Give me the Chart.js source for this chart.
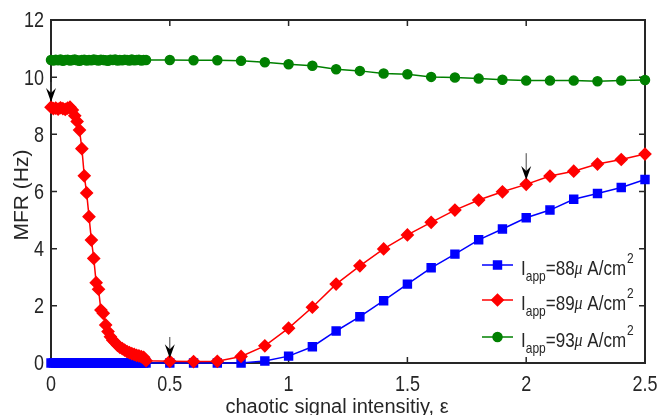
<!DOCTYPE html>
<html>
<head>
<meta charset="utf-8">
<script src="https://cdn.jsdelivr.net/npm/chart.js@4.4.1/dist/chart.umd.min.js"></script>
<style>
  html, body { margin: 0; padding: 0; background: #fff; }
</style>
</head>
<body>
<canvas id="chart" width="659" height="415"></canvas>
<script>
// chaotic signal intensity (x)
const eps = [
    0, 0.01, 0.02, 0.03, 0.04, 0.05, 0.06, 0.07, 0.08, 0.09,
    0.10, 0.11, 0.12, 0.13, 0.14, 0.15, 0.16, 0.17, 0.18, 0.19,
    0.20, 0.21, 0.22, 0.23, 0.24, 0.25, 0.26, 0.27, 0.28, 0.29,
    0.30, 0.31, 0.32, 0.33, 0.34, 0.35, 0.36, 0.37, 0.38, 0.39, 0.40,
    0.5, 0.6, 0.7, 0.8, 0.9, 1.0, 1.1, 1.2, 1.3, 1.4,
    1.5, 1.6, 1.7, 1.8, 1.9, 2.0, 2.1, 2.2, 2.3, 2.4, 2.5
];

// MFR (Hz) for Iapp = 88
const mfr88 = [
    0, 0, 0, 0, 0, 0, 0, 0, 0, 0,
    0, 0, 0, 0, 0, 0, 0, 0, 0, 0,
    0, 0, 0, 0, 0, 0, 0, 0, 0, 0,
    0, 0, 0, 0, 0, 0, 0, 0, 0, 0, 0,
    0, 0, 0, 0, 0.07, 0.24, 0.57, 1.12, 1.62, 2.18,
    2.76, 3.33, 3.81, 4.31, 4.69, 5.08, 5.35, 5.73, 5.93, 6.14, 6.42
];

// MFR (Hz) for Iapp = 89
const mfr89 = [
    8.95, 8.90, 8.92, 8.88, 8.93, 8.90, 8.87, 8.92, 8.95, 8.85,
    8.65, 8.45, 8.15, 7.50, 6.55, 5.95, 5.12, 4.30, 3.66, 2.81,
    2.58, 1.85, 1.74, 1.33, 1.10, 0.92, 0.80, 0.72, 0.62, 0.55,
    0.50, 0.45, 0.40, 0.36, 0.33, 0.30, 0.27, 0.25, 0.22, 0.20, 0.08,
    0.06, 0.05, 0.06, 0.23, 0.60, 1.22, 1.95, 2.76, 3.40, 3.99,
    4.48, 4.92, 5.35, 5.70, 5.99, 6.25, 6.54, 6.71, 6.96, 7.12, 7.31
];

// MFR (Hz) for Iapp = 93
const mfr93 = [
    10.60, 10.58, 10.61, 10.59, 10.62, 10.57, 10.60, 10.61, 10.58, 10.60,
    10.62, 10.59, 10.57, 10.60, 10.61, 10.58, 10.60, 10.59, 10.62, 10.60,
    10.58, 10.61, 10.60, 10.59, 10.57, 10.61, 10.60, 10.62, 10.58, 10.60,
    10.59, 10.61, 10.60, 10.58, 10.62, 10.59, 10.60, 10.61, 10.58, 10.60, 10.60,
    10.60, 10.59, 10.59, 10.57, 10.52, 10.45, 10.40, 10.28, 10.22, 10.13,
    10.10, 10.01, 9.99, 9.95, 9.91, 9.88, 9.88, 9.88, 9.86, 9.88, 9.90
];

const currents = ['88', '89', '93'];
const xTicks = [0, 0.5, 1, 1.5, 2, 2.5];
const yTicks = [0, 2, 4, 6, 8, 10, 12];

// arrows pointing down onto the curves
const arrowX = [0, 0.5, 2.0];
const arrowTip = [9.13, 0.17, 6.40];
const arrowTail = [9.83, 0.91, 7.34];

const FONT = '"Liberation Sans", Arial, Helvetica, sans-serif';
const AXIS = '#262626';
const STRETCH = 1.2;   // text in the figure is drawn a bit taller than wide

const ctx = document.querySelector('#chart').getContext('2d');

const pts = (ys) => eps.map((x, i) => ({ x: x, y: ys[i] }));

function tallText(ctx, txt, x, y, align) {
    ctx.save();
    ctx.translate(x, y);
    ctx.scale(1, STRETCH);
    ctx.textAlign = align;
    ctx.fillText(txt, 0, 0);
    ctx.restore();
}

// box with inward ticks, tick labels and titles (under the data)
const frame = {
    id: 'frame',
    beforeDatasetsDraw(chart) {
        const { ctx, chartArea: a, scales } = chart;
        ctx.save();
        ctx.strokeStyle = AXIS;
        ctx.lineWidth = 2;
        ctx.strokeRect(a.left, a.top, a.right - a.left, a.bottom - a.top);
        ctx.lineWidth = 1.5;
        ctx.beginPath();
        scales.x.ticks.forEach(t => {
            const px = scales.x.getPixelForValue(t.value);
            ctx.moveTo(px, a.bottom); ctx.lineTo(px, a.bottom - 6);
            ctx.moveTo(px, a.top); ctx.lineTo(px, a.top + 6);
        });
        scales.y.ticks.forEach(t => {
            const py = scales.y.getPixelForValue(t.value);
            ctx.moveTo(a.left, py); ctx.lineTo(a.left + 6, py);
            ctx.moveTo(a.right, py); ctx.lineTo(a.right - 6, py);
        });
        ctx.stroke();

        // tick labels
        ctx.fillStyle = AXIS;
        ctx.font = '18px ' + FONT;
        ctx.textBaseline = 'middle';
        scales.x.ticks.forEach(t => {
            tallText(ctx, String(t.value), scales.x.getPixelForValue(t.value), 385, 'center');
        });
        scales.y.ticks.forEach(t => {
            tallText(ctx, String(t.value), a.left - 7, scales.y.getPixelForValue(t.value) + 1.5, 'right');
        });

        // axis titles
        ctx.textAlign = 'center';
        ctx.textBaseline = 'alphabetic';
        ctx.font = '20px ' + FONT;
        ctx.fillText('chaotic signal intensitiy, ε', 337, 413);
        ctx.save();
        ctx.translate(22, 195);
        ctx.rotate(-Math.PI / 2);
        ctx.font = '21px ' + FONT;
        ctx.textBaseline = 'middle';
        ctx.fillText('MFR (Hz)', 0, 0);
        ctx.restore();
        ctx.restore();
    },
    afterDatasetsDraw(chart) {
        const { ctx, scales } = chart;
        ctx.save();
        // arrows
        arrowX.forEach((xv, i) => {
            const px = scales.x.getPixelForValue(xv);
            const tip = scales.y.getPixelForValue(arrowTip[i]);
            const tail = scales.y.getPixelForValue(arrowTail[i]);
            ctx.strokeStyle = '#444';
            ctx.lineWidth = 1;
            ctx.beginPath();
            ctx.moveTo(px, tail);
            ctx.lineTo(px, tip - 9);
            ctx.stroke();
            ctx.fillStyle = '#000';
            ctx.beginPath();
            ctx.moveTo(px, tip);
            ctx.lineTo(px - 5, tip - 14);
            ctx.lineTo(px, tip - 9);
            ctx.lineTo(px + 5, tip - 14);
            ctx.closePath();
            ctx.fill();
        });

        // legend
        const rows = [265, 300, 337];
        chart.data.datasets.forEach((ds, i) => {
            const y = rows[i];
            ctx.strokeStyle = ds.borderColor;
            ctx.lineWidth = ds.borderWidth;
            ctx.beginPath();
            ctx.moveTo(482, y); ctx.lineTo(513, y);
            ctx.stroke();
            ctx.fillStyle = ds.backgroundColor;
            Chart.helpers.drawPoint(ctx, {
                pointStyle: ds.pointStyle, radius: ds.pointRadius, borderWidth: 1
            }, 497.5, y);
            ctx.fill();

            let x = 521;
            const ty = y + 4;
            ctx.fillStyle = AXIS;
            ctx.textBaseline = 'middle';
            ctx.font = '17px ' + FONT;
            tallText(ctx, 'I', x, ty, 'left'); x += ctx.measureText('I').width;
            ctx.font = '12px ' + FONT;
            tallText(ctx, 'app', x, ty + 8, 'left'); x += ctx.measureText('app').width;
            ctx.font = '17px ' + FONT;
            tallText(ctx, '=' + currents[i], x, ty, 'left'); x += ctx.measureText('=' + currents[i]).width;
            ctx.font = 'italic 16px "Liberation Serif", "Times New Roman", serif';
            tallText(ctx, 'μ', x, ty, 'left'); x += ctx.measureText('μ').width;
            ctx.font = '17px ' + FONT;
            tallText(ctx, ' A/cm', x, ty, 'left'); x += ctx.measureText(' A/cm').width;
            ctx.font = '12px ' + FONT;
            tallText(ctx, '2', x + 1, ty - 10, 'left');
        });
        ctx.restore();
    }
};

const chart = new Chart(ctx, {
    type: 'line',
    data: {
        datasets: [
            {
                label: 'Iapp=88',
                data: pts(mfr88),
                borderColor: '#0000ff',
                backgroundColor: '#0000ff',
                pointStyle: 'rect',
                pointRadius: 5.6,
                borderWidth: 1.5,
                order: 2,
            },
            {
                label: 'Iapp=89',
                data: pts(mfr89),
                borderColor: '#ff0000',
                backgroundColor: '#ff0000',
                pointStyle: 'rectRot',
                pointRadius: 5.8,
                borderWidth: 1.5,
                order: 1,
            },
            {
                label: 'Iapp=93',
                data: pts(mfr93),
                borderColor: '#008000',
                backgroundColor: '#008000',
                pointStyle: 'circle',
                pointRadius: 4.5,
                borderWidth: 1.5,
                order: 0,
            },
        ]
    },
    options: {
        responsive: false,
        animation: false,
        devicePixelRatio: 1,
        clip: false,
        elements: {
            line: { tension: 0 },
            point: { borderWidth: 1 }
        },
        layout: {
            padding: { left: 0, right: 14, top: 20, bottom: 0 }
        },
        plugins: {
            legend: { display: false },
            tooltip: { enabled: false },
        },
        scales: {
            x: {
                type: 'linear',
                min: 0,
                max: 2.5,
                afterBuildTicks: s => { s.ticks = xTicks.map(v => ({ value: v })); },
                afterFit: s => { s.height = 52; },
                grid: { display: false, drawTicks: false },
                border: { display: false },
                ticks: { display: false }
            },
            y: {
                min: 0,
                max: 12,
                afterBuildTicks: s => { s.ticks = yTicks.map(v => ({ value: v })); },
                afterFit: s => { s.width = 51; },
                grid: { display: false, drawTicks: false },
                border: { display: false },
                ticks: { display: false }
            }
        }
    },
    plugins: [frame]
});
</script>
</body>
</html>
